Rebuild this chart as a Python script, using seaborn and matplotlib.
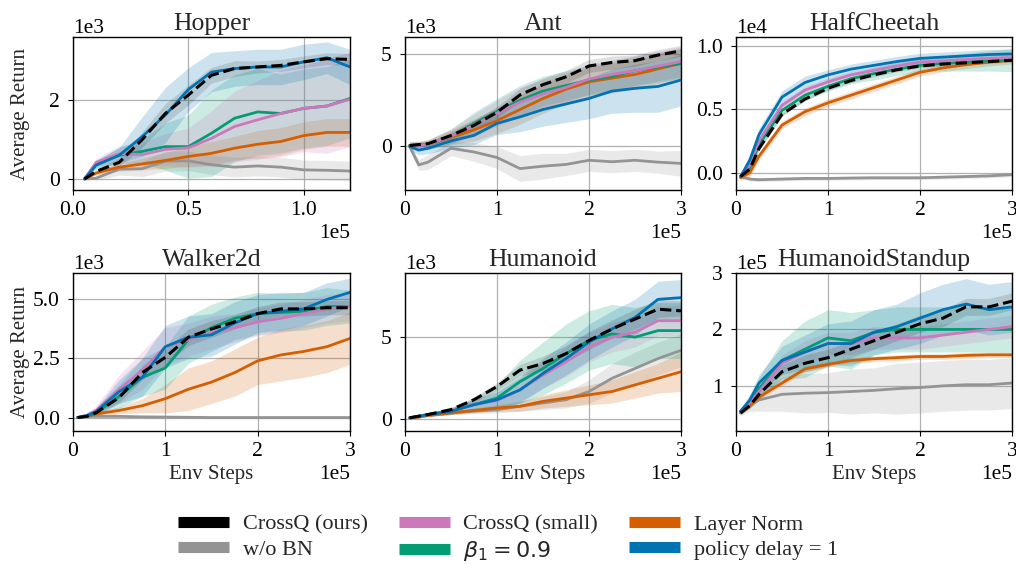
import matplotlib
matplotlib.use("Agg")
import matplotlib.pyplot as plt
import seaborn as sns
import pandas as pd
from matplotlib.lines import Line2D

# ---------------- data ----------------
envs = ["Hopper", "Ant", "HalfCheetah", "Walker2d", "Humanoid", "HumanoidStandup"]
methods = ["CrossQ (ours)", "w/o BN", "CrossQ (small)", r"$\beta_1 = 0.9$", "Layer Norm", "policy delay = 1"]
method_colors = ["#000000", "#949494", "#CC78BC", "#029E73", "#D55E00", "#0173B2"]
draw_order = ["w/o BN", "Layer Norm", r"$\beta_1 = 0.9$", "CrossQ (small)", "policy delay = 1", "CrossQ (ours)"]

hopper_steps = [5000, 10000, 20000, 30000, 40000, 50000, 60000, 70000, 80000, 90000, 100000, 110000, 120000]
long_steps = [5000, 15000, 25000, 50000, 75000, 100000, 125000, 150000, 175000, 200000, 225000, 250000, 275000, 300000]

# Hopper
hopper_crossq = [0, 190, 420, 1000, 1660, 2130, 2630, 2800, 2840, 2880, 2970, 3050, 3030]
hopper_crossq_band = [0, 50, 100, 200, 250, 250, 200, 200, 150, 150, 150, 150, 150]
hopper_nobn = [0, 20, 250, 260, 450, 460, 360, 300, 330, 300, 230, 220, 200]
hopper_nobn_band = [0, 50, 150, 200, 250, 250, 250, 250, 250, 250, 250, 250, 250]
hopper_small = [0, 420, 640, 620, 750, 790, 1030, 1330, 1500, 1660, 1790, 1850, 2020]
hopper_small_band = [0, 100, 200, 300, 400, 500, 700, 900, 1000, 1100, 1100, 1200, 1200]
hopper_beta = [0, 380, 600, 700, 820, 820, 1160, 1540, 1700, 1660, 1790, 1850, 2040]
hopper_beta_band = [0, 100, 200, 300, 600, 800, 1100, 1100, 1100, 1000, 1000, 1000, 1000]
hopper_ln = [0, 150, 300, 380, 470, 570, 650, 780, 880, 950, 1100, 1180, 1180]
hopper_ln_band = [0, 50, 100, 150, 200, 250, 300, 300, 350, 350, 350, 350, 350]
hopper_delay = [0, 350, 600, 1075, 1620, 2270, 2710, 2800, 2840, 2840, 2970, 3075, 2840]
hopper_delay_band = [0, 100, 200, 500, 700, 550, 500, 450, 450, 450, 450, 400, 450]

# Ant
ant_crossq = [50, 100, 150, 590, 1140, 1850, 2790, 3350, 3770, 4360, 4550, 4650, 4950, 5180]
ant_crossq_band = [100, 100, 100, 200, 300, 300, 350, 350, 350, 350, 350, 300, 300, 300]
ant_nobn = [0, -1000, -850, -100, -300, -600, -1200, -1070, -975, -750, -830, -750, -850, -920]
ant_nobn_band = [200, 300, 400, 400, 500, 600, 700, 700, 600, 600, 600, 600, 600, 700]
ant_small = [50, 50, 100, 550, 1150, 1800, 2400, 2850, 3200, 3650, 3900, 4100, 4350, 4600]
ant_small_band = [200, 200, 250, 400, 600, 700, 800, 800, 800, 800, 800, 800, 800, 800]
ant_beta = [50, 50, 100, 550, 1250, 1900, 2500, 3000, 3300, 3600, 3800, 4100, 4300, 4500]
ant_beta_band = [200, 200, 250, 400, 600, 700, 800, 800, 800, 800, 800, 800, 800, 800]
ant_ln = [50, 100, 100, 500, 900, 1400, 2000, 2600, 3100, 3500, 3700, 3900, 4200, 4500]
ant_ln_band = [200, 200, 250, 400, 600, 700, 800, 800, 800, 800, 800, 800, 800, 800]
ant_delay = [0, -200, -100, 300, 600, 1250, 1600, 2000, 2300, 2600, 3000, 3150, 3250, 3600]
ant_delay_band = [200, 250, 300, 400, 500, 600, 800, 900, 1000, 1100, 1200, 1300, 1400, 1400]

# HalfCheetah
cheetah_crossq = [-300, 300, 1900, 4600, 5800, 6650, 7250, 7700, 8100, 8400, 8550, 8650, 8750, 8850]
cheetah_crossq_band = [100, 150, 150, 150, 150, 150, 150, 150, 150, 150, 150, 150, 150, 150]
cheetah_nobn = [-300, -500, -550, -500, -450, -450, -420, -400, -400, -400, -350, -300, -250, -150]
cheetah_nobn_band = [150, 150, 150, 150, 150, 150, 150, 150, 150, 150, 150, 150, 150, 150]
cheetah_small = [-300, 600, 2500, 5300, 6500, 7150, 7700, 8050, 8400, 8700, 8800, 8900, 9000, 9050]
cheetah_small_band = [200, 300, 300, 300, 300, 300, 300, 300, 300, 300, 300, 300, 300, 300]
cheetah_beta = [-300, 400, 2200, 4900, 6100, 6800, 7400, 7800, 8150, 8450, 8600, 8700, 8800, 8850]
cheetah_beta_band = [200, 300, 400, 400, 400, 400, 400, 500, 500, 500, 600, 700, 800, 900]
cheetah_ln = [-400, 0, 1300, 3750, 4800, 5500, 6100, 6700, 7300, 7900, 8250, 8500, 8700, 8850]
cheetah_ln_band = [200, 300, 300, 300, 300, 300, 300, 300, 300, 300, 300, 300, 300, 300]
cheetah_delay = [-300, 1000, 3000, 5950, 7100, 7700, 8150, 8450, 8750, 9000, 9100, 9200, 9300, 9350]
cheetah_delay_band = [200, 400, 500, 500, 500, 400, 400, 400, 400, 400, 400, 400, 400, 400]

# Walker2d
walker_crossq = [0, 50, 200, 850, 1900, 2550, 3400, 3750, 4050, 4400, 4600, 4600, 4650, 4650]
walker_crossq_band = [0, 30, 60, 200, 300, 350, 350, 350, 300, 300, 300, 300, 300, 300]
walker_nobn = [0, 50, 50, 50, 30, 20, 10, 0, 0, 0, 0, 0, 0, 0]
walker_nobn_band = [0, 30, 40, 50, 50, 50, 50, 50, 50, 50, 50, 50, 50, 50]
walker_small = [0, 100, 300, 1200, 2000, 3000, 3300, 3600, 3800, 4050, 4200, 4400, 4600, 4700]
walker_small_band = [0, 80, 200, 600, 800, 800, 700, 700, 600, 600, 600, 600, 600, 600]
walker_beta = [0, 50, 200, 900, 1700, 2100, 3300, 3800, 4200, 4400, 4450, 4500, 4700, 4700]
walker_beta_band = [0, 50, 150, 500, 800, 900, 1000, 1000, 900, 900, 800, 800, 800, 700]
walker_ln = [0, 50, 150, 300, 500, 800, 1200, 1500, 1900, 2400, 2650, 2800, 3000, 3350]
walker_ln_band = [0, 30, 80, 150, 300, 600, 900, 900, 1000, 1000, 1100, 1100, 1100, 1100]
walker_delay = [0, 80, 250, 1100, 1700, 3000, 3400, 3500, 4000, 4400, 4500, 4600, 5000, 5300]
walker_delay_band = [0, 50, 150, 500, 800, 900, 900, 900, 900, 800, 800, 700, 700, 600]

# Humanoid
humanoid_crossq = [100, 200, 300, 600, 1200, 2000, 3000, 3400, 4000, 4800, 5500, 6100, 6700, 6600]
humanoid_crossq_band = [30, 30, 50, 100, 150, 250, 350, 450, 500, 550, 550, 600, 600, 600]
humanoid_nobn = [100, 150, 250, 400, 500, 600, 800, 1000, 1200, 1700, 2500, 3100, 3700, 4200]
humanoid_nobn_band = [50, 50, 80, 100, 150, 200, 300, 400, 500, 700, 900, 1000, 1000, 1000]
humanoid_small = [100, 200, 300, 550, 900, 1150, 1800, 2700, 3500, 4400, 5000, 5300, 6000, 6000]
humanoid_small_band = [50, 50, 100, 200, 300, 500, 700, 800, 900, 900, 900, 900, 900, 900]
humanoid_beta = [100, 200, 300, 500, 900, 1300, 2300, 3100, 4000, 4800, 5200, 5000, 5400, 5400]
humanoid_beta_band = [50, 50, 100, 200, 400, 800, 1300, 1600, 1800, 1800, 1800, 1800, 1700, 1700]
humanoid_ln = [100, 150, 250, 400, 550, 700, 800, 1100, 1300, 1500, 1700, 2100, 2500, 2900]
humanoid_ln_band = [50, 50, 80, 100, 150, 200, 300, 400, 500, 600, 700, 800, 900, 1200]
humanoid_delay = [100, 200, 300, 500, 900, 1200, 1800, 2800, 3700, 4700, 5500, 6200, 7300, 7400]
humanoid_delay_band = [50, 50, 100, 200, 300, 500, 800, 900, 1000, 1100, 1100, 1100, 1100, 1100]

# HumanoidStandup
standup_crossq = [52000, 65000, 85000, 125000, 140000, 150000, 165000, 180000, 195000, 210000, 220000, 240000, 240000, 250000]
standup_crossq_band = [3000, 5000, 8000, 12000, 15000, 15000, 15000, 15000, 15000, 15000, 15000, 15000, 15000, 15000]
standup_nobn = [52000, 65000, 75000, 85000, 87000, 88000, 90000, 92000, 95000, 97000, 100000, 102000, 102000, 105000]
standup_nobn_band = [5000, 10000, 20000, 30000, 35000, 35000, 40000, 40000, 45000, 45000, 45000, 45000, 45000, 45000]
standup_small = [55000, 70000, 90000, 140000, 160000, 175000, 175000, 185000, 185000, 185000, 190000, 195000, 200000, 205000]
standup_small_band = [5000, 5000, 10000, 15000, 20000, 20000, 20000, 20000, 20000, 20000, 20000, 20000, 20000, 20000]
standup_beta = [55000, 70000, 95000, 145000, 165000, 185000, 180000, 195000, 200000, 200000, 200000, 200000, 200000, 200000]
standup_beta_band = [5000, 10000, 20000, 35000, 50000, 50000, 50000, 40000, 40000, 40000, 40000, 40000, 40000, 40000]
standup_ln = [52000, 65000, 80000, 105000, 130000, 138000, 145000, 148000, 150000, 152000, 152000, 154000, 155000, 155000]
standup_ln_band = [3000, 3000, 4000, 5000, 5000, 5000, 5000, 5000, 5000, 5000, 5000, 5000, 5000, 5000]
standup_delay = [55000, 75000, 105000, 145000, 160000, 175000, 175000, 195000, 205000, 220000, 235000, 245000, 235000, 240000]
standup_delay_band = [5000, 10000, 15000, 25000, 30000, 35000, 40000, 40000, 40000, 45000, 45000, 45000, 45000, 45000]

x_limits = [(0, 120000), (0, 300000), (0, 300000), (0, 300000), (0, 300000), (0, 300000)]
y_limits = [(-280, 3600), (-2360, 5930), (-1360, 10680), (-570, 6120), (-700, 8900), (20000, 300000)]
x_ticks = [[0, 50000, 100000]] + [[0, 100000, 200000, 300000]] * 5
y_ticks = [[0, 2000], [0, 5000], [0, 5000, 10000], [0, 2500, 5000], [0, 5000], [100000, 200000, 300000]]

# ---------------- table ----------------
env_steps = {"Hopper": hopper_steps}
series = {
    "Hopper": [hopper_crossq, hopper_nobn, hopper_small, hopper_beta, hopper_ln, hopper_delay],
    "Ant": [ant_crossq, ant_nobn, ant_small, ant_beta, ant_ln, ant_delay],
    "HalfCheetah": [cheetah_crossq, cheetah_nobn, cheetah_small, cheetah_beta, cheetah_ln, cheetah_delay],
    "Walker2d": [walker_crossq, walker_nobn, walker_small, walker_beta, walker_ln, walker_delay],
    "Humanoid": [humanoid_crossq, humanoid_nobn, humanoid_small, humanoid_beta, humanoid_ln, humanoid_delay],
    "HumanoidStandup": [standup_crossq, standup_nobn, standup_small, standup_beta, standup_ln, standup_delay],
}
bands = {
    "Hopper": [hopper_crossq_band, hopper_nobn_band, hopper_small_band, hopper_beta_band, hopper_ln_band, hopper_delay_band],
    "Ant": [ant_crossq_band, ant_nobn_band, ant_small_band, ant_beta_band, ant_ln_band, ant_delay_band],
    "HalfCheetah": [cheetah_crossq_band, cheetah_nobn_band, cheetah_small_band, cheetah_beta_band, cheetah_ln_band, cheetah_delay_band],
    "Walker2d": [walker_crossq_band, walker_nobn_band, walker_small_band, walker_beta_band, walker_ln_band, walker_delay_band],
    "Humanoid": [humanoid_crossq_band, humanoid_nobn_band, humanoid_small_band, humanoid_beta_band, humanoid_ln_band, humanoid_delay_band],
    "HumanoidStandup": [standup_crossq_band, standup_nobn_band, standup_small_band, standup_beta_band, standup_ln_band, standup_delay_band],
}

rows = []
for env in envs:
    steps = env_steps.get(env, long_steps)
    for m, mean, band in zip(methods, series[env], bands[env]):
        for s, v, b in zip(steps, mean, band):
            for val in (v - b, v, v + b):
                rows.append({"env": env, "method": m, "step": s, "ret": val})
df = pd.DataFrame(rows)

# ---------------- style ----------------
sns.set_style("ticks", {"axes.grid": True})
plt.rcParams.update({
    "font.family": ["Liberation Serif", "DejaVu Serif"],
    "mathtext.fontset": "dejavusans",
    "font.size": 15,
    "axes.edgecolor": "black",
    "axes.linewidth": 1.0,
    "grid.color": "#b0b0b0",
    "grid.linewidth": 0.9,
    "xtick.color": "black",
    "ytick.color": "black",
    "xtick.direction": "out",
    "ytick.direction": "out",
    "xtick.major.size": 3.5,
    "ytick.major.size": 3.5,
    "xtick.major.pad": 4.5,
    "ytick.major.pad": 6.0,
    "xtick.labelsize": 15.5,
    "ytick.labelsize": 15.5,
    "axes.titlesize": 18.5,
    "axes.labelsize": 15,
})

fig = plt.figure(figsize=(10.16, 5.64), dpi=100)
W, H = 1016.0, 564.0
cols_px = [(73, 350), (405, 681), (736, 1012)]
rows_px = [(37, 190), (273, 431)]
color_of = dict(zip(methods, method_colors))

for i, env in enumerate(envs):
    r, c = divmod(i, 3)
    x0, x1 = cols_px[c]
    y0, y1 = rows_px[r]
    ax = fig.add_axes([x0 / W, 1 - y1 / H, (x1 - x0) / W, (y1 - y0) / H])
    sub = df[df["env"] == env]
    for m in draw_order:
        d = sub[sub["method"] == m]
        is_main = m == "CrossQ (ours)"
        sns.lineplot(data=d, x="step", y="ret", estimator="median",
                     errorbar=("pi", 100), color=color_of[m],
                     linewidth=2.2 if is_main else 2.0,
                     linestyle="--" if is_main else "-",
                     err_kws={"alpha": 0.12 if is_main else 0.2, "linewidth": 0},
                     ax=ax, legend=False)
    ax.set_xlim(*x_limits[i])
    ax.set_ylim(*y_limits[i])
    ax.set_xticks(x_ticks[i])
    ax.set_yticks(y_ticks[i])
    ax.ticklabel_format(style="sci", axis="both", scilimits=(0, 0))
    ax.grid(True)
    ax.set_title(env, pad=5)
    ax.set_xlabel("Env Steps" if r == 1 else "", labelpad=3)
    ax.set_ylabel("Average Return" if c == 0 else "")
    if c == 0:
        ax.yaxis.set_label_coords(-0.157, 0.5)
    ax.xaxis.get_offset_text().set_fontsize(15.5)
    ax.yaxis.get_offset_text().set_fontsize(15.5)
    for sp in ax.spines.values():
        sp.set_visible(True)
        sp.set_color("black")

handles = [Line2D([], [], color=color_of[m], lw=8, solid_capstyle="butt") for m in methods]
fig.legend(handles, methods, loc="center", bbox_to_anchor=(0.5, 0.045), ncol=3,
           frameon=False, handlelength=2.3, fontsize=16, columnspacing=1.4,
           labelspacing=0.2, handletextpad=0.6)

fig.savefig("out.png", dpi=100)
